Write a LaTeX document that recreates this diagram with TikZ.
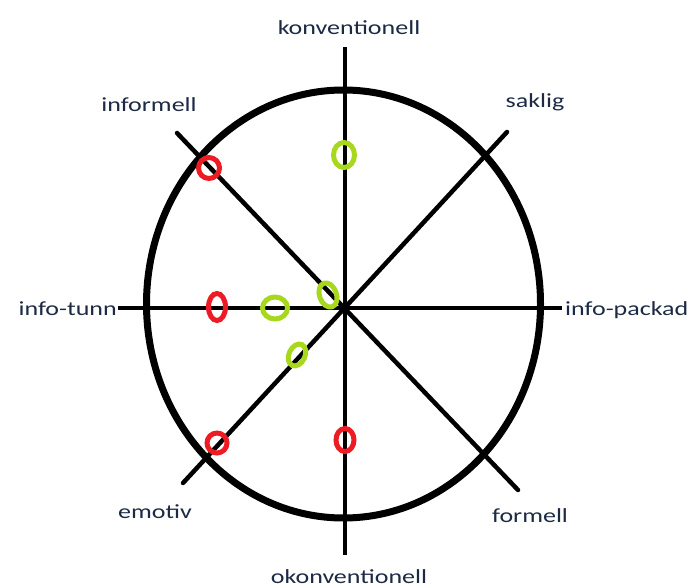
\documentclass[tikz,border=0pt]{standalone}
\usepackage{fontspec}
\setmainfont{Carlito}
\definecolor{lblblue}{HTML}{1C2A44}
\definecolor{markred}{HTML}{ED1C24}
\definecolor{markgreen}{HTML}{A8D81E}
\newcommand{\widelabel}[1]{\scalebox{1.3}[1]{#1}}
\begin{document}
\begin{tikzpicture}[x=1pt, y=-1pt,
    axis/.style={line width=3.5pt},
    diag/.style={line width=4.5pt, line cap=round},
    lbl/.style={text=lblblue, font=\fontsize{20}{24}\selectfont, inner sep=0pt, anchor=base},
    redmark/.style={draw=markred, line width=5pt},
    greenmark/.style={draw=markgreen, line width=5pt}]
    \useasboundingbox (0,0) rectangle (693,588);
    \coordinate (ctr) at (343.5,304);

    % Labels
    \node[lbl] (konv) at (349,35) {\widelabel{konventionell}};
    \node[lbl] (okonv) at (349,583) {\widelabel{okonventionell}};
    \node[lbl] (inform) at (149,112) {\widelabel{informell}};
    \node[lbl] (form) at (530,522) {\widelabel{formell}};
    \node[lbl] (sak) at (535,108) {\widelabel{saklig}};
    \node[lbl] (emo) at (155,518) {\widelabel{emotiv}};
    \node[lbl, anchor=base east] (tunn) at (117,315) {\widelabel{info-tunn}};
    \node[lbl, anchor=base west] (pack) at (565,315) {\widelabel{info-packad}};

    % Axis end points
    \coordinate (top) at (345,47);
    \coordinate (bot) at (345,555);
    \coordinate (lft) at (118,308);
    \coordinate (rgt) at (562,308);
    \coordinate (ne) at (507,132);
    \coordinate (sw) at (183,483);
    \coordinate (nw) at (177,133);
    \coordinate (se) at (518,490);

    % Circle
    \draw[line width=7pt] (ctr) ellipse [x radius=197, y radius=214];

    % Axes
    \draw[axis] (top) -- (bot);
    \draw[axis] (lft) -- (rgt);
    \draw[diag] (ne) -- (sw);
    \draw[diag] (nw) -- (se);

    % Markers
    \draw[redmark] (209,168) circle [radius=10.5];
    \draw[redmark] (217,307) ellipse [x radius=8.5, y radius=13.5];
    \draw[redmark] (217,443) circle [radius=10];
    \draw[redmark] (345,440) ellipse [x radius=9, y radius=11.5];
    \draw[greenmark] (344,155) ellipse [x radius=10.5, y radius=12.5];
    \draw[greenmark] (275,308) ellipse [x radius=12.5, y radius=11];
    \draw[greenmark, rotate around={20:(328,295)}] (328,295) ellipse [x radius=8.5, y radius=12.5];
    \draw[greenmark, rotate around={-25:(297,355)}] (297,355) ellipse [x radius=8, y radius=11.5];
\end{tikzpicture}
\end{document}
